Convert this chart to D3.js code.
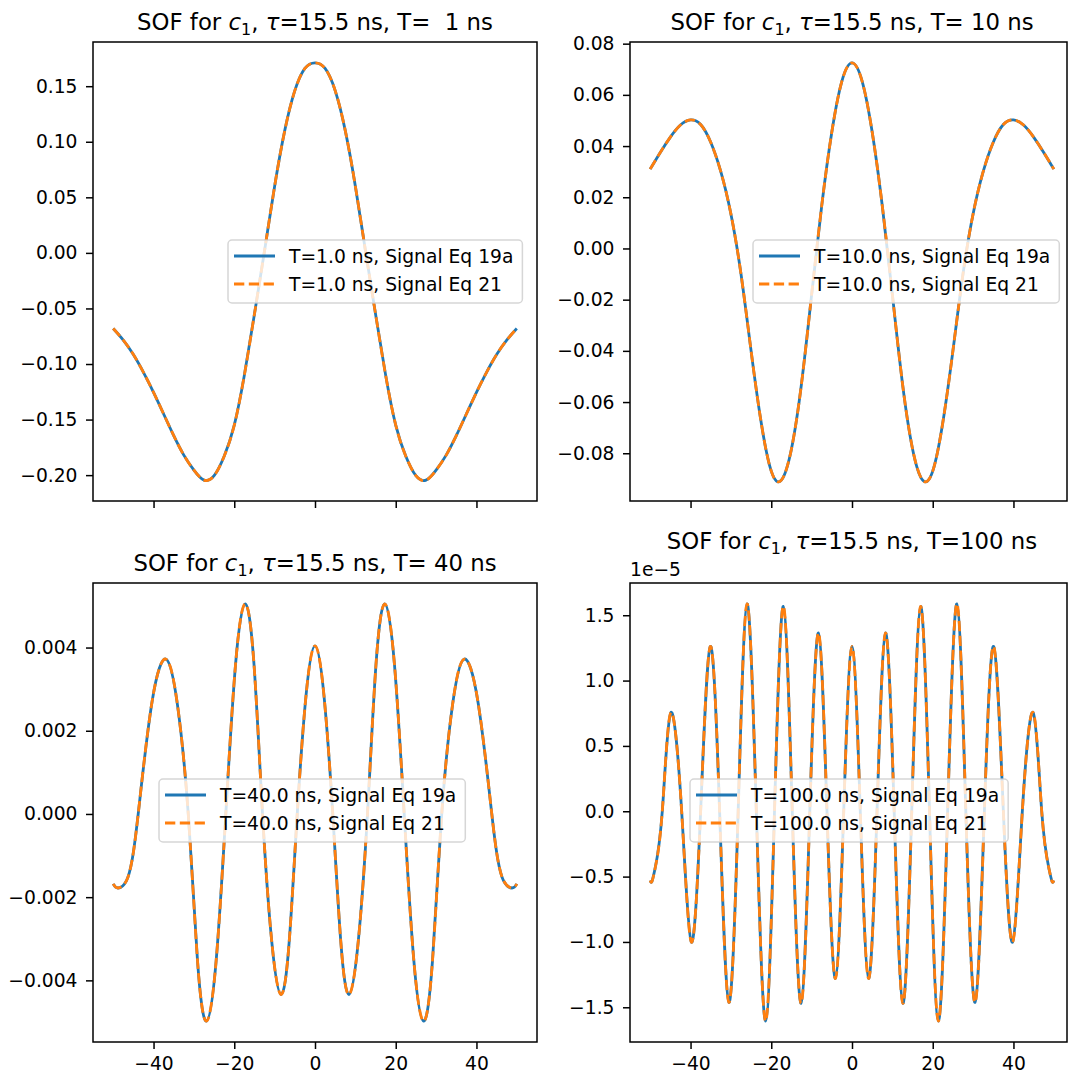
<!DOCTYPE html>
<html>
<head>
<meta charset="utf-8">
<script src="https://cdn.jsdelivr.net/npm/d3@7"></script>
<style>
  body { margin: 0; background: #fff; }
  svg { display: block; font-family: "DejaVu Sans", sans-serif; }
</style>
</head>
<body>
<svg id="chart" width="1068" height="1073"></svg>
<script>
// ---- data ----
// T = 1 ns and T = 10 ns, sampled every 2.5 ns
var xGrid = [-50, -47.5, -45, -42.5, -40, -37.5, -35, -32.5, -30, -27.5, -25, -22.5, -20, -17.5, -15, -12.5, -10, -7.5, -5, -2.5, 0,
             2.5, 5, 7.5, 10, 12.5, 15, 17.5, 20, 22.5, 25, 27.5, 30, 32.5, 35, 37.5, 40, 42.5, 45, 47.5, 50];

var sofT1 = [-0.068, -0.0785, -0.0915, -0.1075, -0.1255, -0.1450, -0.1645, -0.1820, -0.1955, -0.2045, -0.2005, -0.183, -0.155, -0.110, -0.055, 0.002, 0.060, 0.110, 0.146, 0.166, 0.171,
             0.166, 0.146, 0.110, 0.060, 0.002, -0.055, -0.110, -0.155, -0.183, -0.2005, -0.2045, -0.1955, -0.1820, -0.1645, -0.1450, -0.1255, -0.1075, -0.0915, -0.0785, -0.068];

var sofT10 = [0.0310, 0.0375, 0.0435, 0.0482, 0.0502, 0.0484, 0.0415, 0.0300, 0.0135, -0.0100, -0.0400, -0.0680, -0.0870, -0.0905, -0.0783, -0.0527, -0.0180, 0.0167, 0.0455, 0.0654, 0.0725,
              0.0654, 0.0455, 0.0167, -0.0180, -0.0527, -0.0783, -0.0905, -0.0870, -0.0680, -0.0400, -0.0100, 0.0135, 0.0300, 0.0415, 0.0484, 0.0502, 0.0482, 0.0435, 0.0375, 0.0310];

// T = 40 ns: extrema, zero crossings and half way points
var xT40 = [-50, -48.8, -46.7, -45.3, -43.8, -40.4, -36.9, -34.1, -31.4, -29.1, -26.9, -24.5, -22.1, -19.7, -17.3, -15.1, -13.0, -10.7, -8.4, -6.4, -4.4, -2.2, 0,
            2.2, 4.4, 6.4, 8.4, 10.7, 13.0, 15.1, 17.3, 19.7, 22.1, 24.5, 26.9, 29.1, 31.4, 34.1, 36.9, 40.4, 43.8, 45.3, 46.7, 48.8, 50];
var sofT40 = [-0.00168, -0.00178, -0.00160, -0.00110, 0, 0.00268, 0.00372, 0.00264, 0, -0.00354, -0.00498, -0.00354, 0, 0.00358, 0.00505, 0.00358, 0, -0.00308, -0.00434, -0.00308, 0, 0.00287, 0.00404,
              0.00287, 0, -0.00308, -0.00434, -0.00308, 0, 0.00358, 0.00505, 0.00358, 0, -0.00354, -0.00498, -0.00354, 0, 0.00264, 0.00372, 0.00268, 0, -0.00110, -0.00160, -0.00178, -0.00168];

// T = 100 ns: extrema and zero crossings, values in units of 1e-5
var xT100 = [-50, -49.6, -48.8, -47.0, -44.9, -42.2, -39.8, -37.5, -35.1, -32.8, -30.5, -28.2, -26.0, -23.7, -21.4, -19.2, -17.0, -14.8, -12.6, -10.45, -8.3, -6.2, -4.1, -2.05, 0,
             2.05, 4.1, 6.2, 8.3, 10.45, 12.6, 14.8, 17.0, 19.2, 21.4, 23.7, 26.0, 28.2, 30.5, 32.8, 35.1, 37.5, 39.8, 42.2, 44.9, 47.0, 48.8, 49.6, 50];
var sofT100e5 = [-0.53, -0.54, -0.44, 0, 0.754, 0, -1.001, 0, 1.261, 0, -1.462, 0, 1.587, 0, -1.606, 0, 1.568, 0, -1.47, 0, 1.364, 0, -1.28, 0, 1.261,
                 0, -1.28, 0, 1.364, 0, -1.47, 0, 1.568, 0, -1.606, 0, 1.587, 0, -1.462, 0, 1.261, 0, -1.001, 0, 0.754, 0, -0.44, -0.54, -0.53];

var xTicks = [-40, -20, 0, 20, 40];
var yTicksT1 = [-0.20, -0.15, -0.10, -0.05, 0.00, 0.05, 0.10, 0.15];
var yTicksT10 = [-0.08, -0.06, -0.04, -0.02, 0.00, 0.02, 0.04, 0.06, 0.08];
var yTicksT40 = [-0.004, -0.002, 0.000, 0.002, 0.004];
var yTicksT100 = [-1.5, -1.0, -0.5, 0.0, 0.5, 1.0, 1.5];

var titleT = ["  1", " 10", " 40", "100"];
var legendT = ["1.0", "10.0", "40.0", "100.0"];
var seriesNames = ["Signal Eq 19a", "Signal Eq 21"];

var blue = "#1f77b4", orange = "#ff7f0e";

// ---- layout ----
var W = 1068;
var fs = 18.7, titleFs = 22.8;
var panels = [
  {xs: xGrid, ys: sofT1,     ticks: yTicksT1,   fmt: ".2f", left: 93,  top: 42,  w: 444, h: 459, lx: 135, ly: 198, xlab: false, titleY: 30},
  {xs: xGrid, ys: sofT10,    ticks: yTicksT10,  fmt: ".2f", left: 630, top: 42,  w: 444, h: 459, lx: 123, ly: 198, xlab: false, titleY: 30},
  {xs: xT40,  ys: sofT40,    ticks: yTicksT40,  fmt: ".3f", left: 93,  top: 583, w: 444, h: 459, lx: 66,  ly: 196, xlab: true,  titleY: 571},
  {xs: xT100, ys: sofT100e5, ticks: yTicksT100, fmt: ".1f", left: 630, top: 583, w: 444, h: 459, lx: 60,  ly: 196, xlab: true,  titleY: 549, offset: "1e\u22125"}
];

var svg = d3.select("#chart");

panels.forEach(function(p, i) {
  var x = d3.scaleLinear().domain([-55, 55]).range([0, p.w]);
  var ext = d3.extent(p.ys);
  var pad = (ext[1] - ext[0]) * 0.05;
  var y = d3.scaleLinear().domain([ext[0] - pad, ext[1] + pad]).range([p.h, 0]);

  var g = svg.append("g").attr("transform", "translate(" + p.left + "," + p.top + ")");

  var pts = p.xs.map(function(v, k) { return [v, p.ys[k]]; });
  var line = d3.line()
    .x(function(d) { return x(d[0]); })
    .y(function(d) { return y(d[1]); })
    .curve(d3.curveNatural);

  // both equations give the same curve
  g.append("path").attr("d", line(pts))
    .attr("fill", "none").attr("stroke", blue).attr("stroke-width", 2.8);
  g.append("path").attr("d", line(pts))
    .attr("fill", "none").attr("stroke", orange).attr("stroke-width", 2.8)
    .attr("stroke-dasharray", "10.3,4.5");

  // axes
  var yAxis = d3.axisLeft(y).tickValues(p.ticks).tickFormat(d3.format(p.fmt))
    .tickSize(7).tickSizeOuter(0).tickPadding(8.5);
  var ya = g.append("g").call(yAxis);
  var xAxis = d3.axisBottom(x).tickValues(xTicks).tickFormat(p.xlab ? d3.format("d") : "")
    .tickSize(7).tickSizeOuter(0).tickPadding(7.5);
  var xa = g.append("g").attr("transform", "translate(0," + p.h + ")").call(xAxis);
  [ya, xa].forEach(function(a) {
    a.select(".domain").remove();
    a.selectAll("line").attr("stroke", "#000").attr("stroke-width", 1.5);
    a.selectAll("text").attr("fill", "#000").style("font-size", fs + "px")
      .style("font-family", "DejaVu Sans, sans-serif");
  });

  // frame (right panels run off the picture edge)
  var fw = Math.min(p.w, W - 1 - p.left);
  g.append("rect").attr("x", 0).attr("y", 0).attr("width", fw).attr("height", p.h)
    .attr("fill", "none").attr("stroke", "#000").attr("stroke-width", 1.5);

  if (p.offset) {
    g.append("text").attr("x", 0).attr("y", -7).text(p.offset)
      .style("font-size", fs + "px").attr("fill", "#000");
  }

  // title
  var t = svg.append("text")
    .attr("x", p.left + p.w / 2).attr("y", p.titleY)
    .attr("text-anchor", "middle").style("font-size", titleFs + "px")
    .style("white-space", "pre").attr("fill", "#000");
  t.append("tspan").text("SOF for ");
  t.append("tspan").text("c").style("font-style", "italic");
  t.append("tspan").text("1").style("font-size", (titleFs * 0.7) + "px").attr("dy", 4.5);
  t.append("tspan").text(", ").attr("dy", -4.5);
  t.append("tspan").text("\u03c4").style("font-style", "italic");
  t.append("tspan").text("=15.5 ns, T=" + titleT[i] + " ns");

  // legend
  var lg = g.append("g").attr("transform", "translate(" + p.lx + "," + p.ly + ")");
  var box = lg.append("rect").attr("rx", 4).attr("ry", 4)
    .attr("fill", "#fff").attr("fill-opacity", 0.8)
    .attr("stroke", "#ccc").attr("stroke-opacity", 0.8).attr("stroke-width", 1.5);
  var maxW = 0;
  seriesNames.forEach(function(s, k) {
    var cy = 16 + k * 28;
    lg.append("line").attr("x1", 6).attr("x2", 47).attr("y1", cy).attr("y2", cy)
      .attr("stroke", k === 0 ? blue : orange).attr("stroke-width", 2.8)
      .attr("stroke-dasharray", k === 0 ? null : "10.3,4.5");
    var tx = lg.append("text").attr("x", 61).attr("y", cy).attr("dy", "0.35em")
      .style("font-size", fs + "px").attr("fill", "#000")
      .text("T=" + legendT[i] + " ns, " + s);
    maxW = Math.max(maxW, tx.node().getComputedTextLength());
  });
  box.attr("x", 0).attr("y", 0).attr("width", 61 + maxW + 9).attr("height", 63);
});
</script>
</body>
</html>
